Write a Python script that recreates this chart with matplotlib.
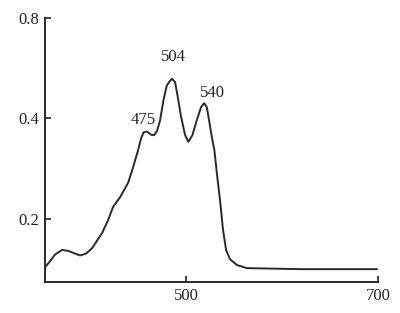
import matplotlib
matplotlib.use("Agg")
import matplotlib.pyplot as plt
from matplotlib.ticker import FixedLocator, FixedFormatter, NullLocator

# ── 数据 ──────────────────────────────────────────────
wavelength = [353.1, 358.3, 363.5, 370.8, 377.1, 384.4, 389.6, 395.8, 402.1, 412.5,
              418.8, 424, 431.3, 439.6, 444.8, 450, 453.1, 455.7, 459.4, 463.5,
              466.7, 469.8, 472.9, 476.4, 479.9, 485.1, 488.5, 491.4, 494.8, 499,
              502.4, 506.6, 511.1, 515.6, 518.8, 521.6, 524, 526.8, 529.5, 532.3,
              535.4, 538.5, 541.7, 545.8, 553.1, 563.5, 618.8, 699]
absorb = [0.143, 0.149, 0.156, 0.161, 0.160, 0.157, 0.155, 0.157, 0.163, 0.181,
          0.198, 0.217, 0.232, 0.256, 0.285, 0.321, 0.348, 0.363, 0.365, 0.357,
          0.356, 0.367, 0.394, 0.453, 0.502, 0.526, 0.514, 0.463, 0.404, 0.356,
          0.340, 0.356, 0.394, 0.432, 0.444, 0.432, 0.394, 0.352, 0.321, 0.270,
          0.227, 0.185, 0.161, 0.151, 0.145, 0.142, 0.141, 0.141]

peak_labels = ["475", "504", "540"]
peak_x      = [455.2, 486.5, 527]
peak_y      = [0.394, 0.609, 0.475]

x_ticks  = [500, 700]
y_ticks  = [0.2, 0.4, 0.8]
y_labels = ["0.2", "0.4", "0.8"]

# ── 绘图 ──────────────────────────────────────────────────
plt.rcParams["font.family"] = ["Liberation Serif", "DejaVu Serif"]

fig = plt.figure(figsize=(4.0, 3.13), dpi=100)
ax = fig.add_axes([0.1125, 0.099, 0.8325, 0.8435])

ax.plot(wavelength, absorb, color="#2a2a2a", linewidth=1.4,
        solid_joinstyle="round", solid_capstyle="round")

for lab, px, py in zip(peak_labels, peak_x, peak_y):
    ax.text(px, py, lab, ha="center", va="center", fontsize=12, color="#222")

ax.set_yscale("log")
ax.set_xlim(353, 700)
ax.set_ylim(0.129, 0.8)

ax.yaxis.set_major_locator(FixedLocator(y_ticks))
ax.yaxis.set_major_formatter(FixedFormatter(y_labels))
ax.yaxis.set_minor_locator(NullLocator())
ax.set_xticks(x_ticks)

for s in ["top", "right"]:
    ax.spines[s].set_visible(False)
for s in ["left", "bottom"]:
    ax.spines[s].set_linewidth(1.4)
    ax.spines[s].set_color("#2a2a2a")

ax.tick_params(direction="in", length=4, width=1.2, labelsize=12,
               colors="#222", pad=4)

plt.savefig("out.png", dpi=100)
